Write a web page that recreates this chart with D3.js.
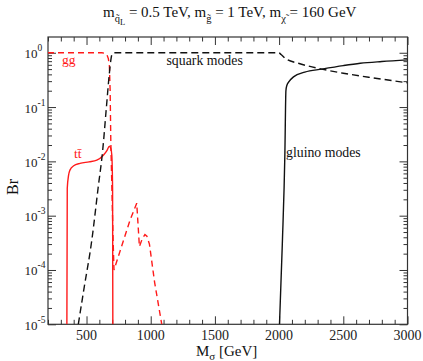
<!DOCTYPE html>
<html><head><meta charset="utf-8">
<script src="https://cdn.jsdelivr.net/npm/d3@7/dist/d3.min.js"></script>
<style>body{margin:0;background:#fff}svg{display:block}</style>
</head><body>
<svg id="c" width="423" height="361" font-family="'Liberation Serif', Tinos, 'DejaVu Serif', serif"></svg>
<script>
// ---- data ----
const xTicks = [500, 1000, 1500, 2000, 2500, 3000];
const yTickExps = [0, -1, -2, -3, -4, -5];

const ggMass = [200, 620, 644, 660, 670, 678, 684, 689, 695, 701, 708, 714, 839, 891, 912, 935, 955, 970, 990, 1030, 1086];
const ggBr   = [1, 1, 0.98, 0.9, 0.78, 0.59, 0.2, 0.025, 0.006, 1.45e-3, 3e-4, 1e-4, 8.3e-4, 1.7e-3, 2.7e-4, 3.8e-4, 4.5e-4, 4.2e-4, 3e-4, 6e-5, 1e-5];

const ttMass = [347, 350, 360, 371, 400, 449, 520, 580, 631, 660, 678, 690, 697, 703, 705];
const ttBr   = [1e-5, 3.2e-3, 5.5e-3, 6.9e-3, 8.3e-3, 9.2e-3, 9.8e-3, 1.05e-2, 1.3e-2, 1.6e-2, 1.9e-2, 1.7e-2, 1.3e-2, 3e-3, 1e-5];

const sqMass = [436, 480, 541, 590, 626, 655, 678, 690, 698, 710, 725, 1995, 2015, 2050, 2150, 2333, 2500, 2750, 3000];
const sqBr   = [1e-5, 4.5e-5, 3.5e-4, 3.2e-3, 1.6e-2, 0.1, 0.42, 0.75, 0.93, 0.99, 1, 1, 0.93, 0.78, 0.64, 0.5, 0.42, 0.34, 0.28];

const glMass = [2003, 2025, 2045, 2053, 2060, 2080, 2112, 2200, 2333, 2500, 2632, 2800, 3000];
const glBr   = [1e-5, 3e-4, 1.4e-2, 0.2, 0.25, 0.3, 0.36, 0.44, 0.5, 0.58, 0.64, 0.69, 0.74];

// ---- layout ----
const L = 48, R = 407.5, T = 37, B = 324.3;
const svg = d3.select("#c");
const x = d3.scaleLinear().domain([200, 3000]).range([L, R]);
const y = d3.scaleLog().domain([1e-5, 1.95]).range([B, T]);

const minorX = d3.range(200, 3001, 100).filter(v => v % 500 !== 0);
const minorY = [];
for (let e = -5; e <= 0; e++) for (let k = 2; k <= 9; k++) { const v = k * Math.pow(10, e); if (v <= 1.95) minorY.push(v); }
const majorY = yTickExps.map(e => Math.pow(10, e));

const axisColor = "#333";
function styleAxis(g) { g.select(".domain").remove(); g.selectAll("line").attr("stroke", axisColor).attr("stroke-width", 1); g.selectAll("text").remove(); }

svg.append("g").attr("transform", `translate(0,${B})`).call(d3.axisBottom(x).tickValues(xTicks).tickSize(-8)).call(styleAxis);
svg.append("g").attr("transform", `translate(0,${B})`).call(d3.axisBottom(x).tickValues(minorX).tickSize(-4.5)).call(styleAxis);
svg.append("g").attr("transform", `translate(0,${T})`).call(d3.axisTop(x).tickValues(xTicks).tickSize(-8)).call(styleAxis);
svg.append("g").attr("transform", `translate(0,${T})`).call(d3.axisTop(x).tickValues(minorX).tickSize(-4.5)).call(styleAxis);
svg.append("g").attr("transform", `translate(${L},0)`).call(d3.axisLeft(y).tickValues(majorY).tickSize(-8)).call(styleAxis);
svg.append("g").attr("transform", `translate(${L},0)`).call(d3.axisLeft(y).tickValues(minorY).tickSize(-4)).call(styleAxis);
svg.append("g").attr("transform", `translate(${R},0)`).call(d3.axisRight(y).tickValues(majorY).tickSize(-8)).call(styleAxis);
svg.append("g").attr("transform", `translate(${R},0)`).call(d3.axisRight(y).tickValues(minorY).tickSize(-4)).call(styleAxis);

svg.append("rect").attr("x", L).attr("y", T).attr("width", R - L).attr("height", B - T)
  .attr("fill", "none").attr("stroke", axisColor).attr("stroke-width", 1.2);

// tick labels
svg.append("g").selectAll("text").data(xTicks).join("text")
  .attr("x", d => x(d)).attr("y", B + 16).attr("text-anchor", "middle")
  .attr("font-size", 14).attr("fill", "#222").text(d => d);

const yl = svg.append("g").selectAll("text").data(yTickExps).join("text")
  .attr("x", 24.5).attr("y", d => y(Math.pow(10, d)) + 5.5).attr("text-anchor", "start")
  .attr("font-size", 13).attr("fill", "#222");
yl.append("tspan").text("10");
yl.append("tspan").attr("dy", -7).attr("font-size", 9.5).text(d => d);

// curves
svg.append("clipPath").attr("id", "pc").append("rect").attr("x", L).attr("y", T).attr("width", R - L).attr("height", B - T);
const plot = svg.append("g").attr("clip-path", "url(#pc)");
function draw(ms, bs, color, dash, curve) {
  const pts = ms.map((m, i) => [m, bs[i]]);
  plot.append("path").datum(pts)
    .attr("d", d3.line().x(d => x(d[0])).y(d => y(d[1])).curve(curve))
    .attr("fill", "none").attr("stroke", color).attr("stroke-width", 1.4)
    .attr("stroke-dasharray", dash);
}
draw(ttMass, ttBr, "#ff1a1a", null, d3.curveMonotoneX);
draw(ggMass, ggBr, "#ff1a1a", "6,4", d3.curveLinear);
draw(sqMass, sqBr, "#111", "7,4", d3.curveMonotoneX);
draw(glMass, glBr, "#111", null, d3.curveMonotoneX);

// annotations
svg.append("text").attr("x", 62).attr("y", 63.5).attr("font-size", 13.5).attr("fill", "#ff1a1a").text("gg");
svg.append("text").attr("x", 74).attr("y", 158).attr("font-size", 13.5).attr("fill", "#ff1a1a").text("tt\u0304");
svg.append("text").attr("x", 166.5).attr("y", 65).attr("font-size", 13.8).attr("fill", "#111").text("squark modes");
svg.append("text").attr("x", 286).attr("y", 157).attr("font-size", 13.8).attr("fill", "#111").text("gluino modes");

// title
const t = svg.append("text").attr("x", 103).attr("y", 17).attr("font-size", 15).attr("fill", "#111");
t.append("tspan").text("m");
t.append("tspan").attr("dy", 5).attr("font-size", 10.5).text("q\u0303");
t.append("tspan").attr("dy", 3).attr("font-size", 8.5).text("L");
t.append("tspan").attr("dy", -8).text(" = 0.5 TeV, m");
t.append("tspan").attr("dy", 5).attr("font-size", 10.5).text("g\u0303");
t.append("tspan").attr("dy", -5).text(" = 1 TeV, m");
t.append("tspan").attr("dy", 5).attr("font-size", 10.5).text("\u03c7\u0303");
t.append("tspan").attr("dy", -5).text(" = 160 GeV");

// axis titles
const xt = svg.append("text").attr("x", 196).attr("y", 356).attr("font-size", 15).attr("fill", "#111");
xt.append("tspan").text("M");
xt.append("tspan").attr("dy", 4).attr("font-size", 11).text("\u03c3");
xt.append("tspan").attr("dy", -4).text(" [GeV]");
svg.append("text").attr("transform", "translate(18,187) rotate(-90)").attr("text-anchor", "middle")
  .attr("font-size", 16).attr("fill", "#111").text("Br");
</script>
</body></html>
